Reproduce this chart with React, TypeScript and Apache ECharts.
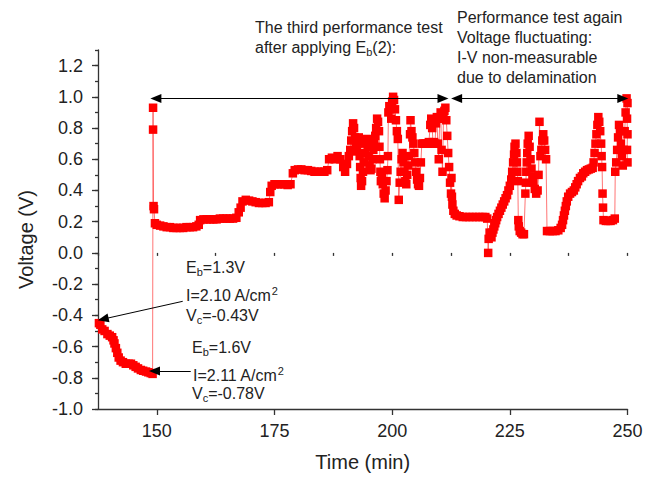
import React, { useEffect, useRef } from "react";
import * as echarts from "echarts";

// Time (min)
const timeMin = [
  137.7, 138.0, 138.4, 138.9, 139.5, 140.0, 140.5, 140.8, 141.0, 141.3, 141.6, 141.9, 142.3, 142.8, 143.4, 144.0,
  144.5, 145.0, 145.5, 146.0, 146.6, 147.1, 147.7, 148.2, 148.7, 149.1,
  149.2, 149.2, 149.3, 149.4, 149.6, 150.0, 150.7, 151.4, 152.1, 152.8, 153.5, 154.2, 154.9, 155.6, 156.3, 157.0,
  157.7, 158.4, 158.9,
  159.2, 159.9, 160.6, 161.3, 162.0, 162.7, 163.4, 164.1, 164.8, 165.5, 166.2, 166.9,
  167.4, 167.8, 168.2, 168.9, 169.6, 170.3, 171.0, 171.7, 172.4, 173.1, 173.8,
  174.1, 174.4, 175.0, 175.7, 176.4, 177.1, 177.8, 178.4,
  178.9, 179.3, 180.0, 180.7, 181.4, 182.1, 182.8, 183.5, 184.2, 184.9, 185.6, 186.2,
  186.6, 187.2, 187.8, 188.4, 189.0, 189.6, 190.0, 190.4,
  190.8, 191.1, 191.3, 191.5, 191.7, 191.9, 192.1, 192.3, 192.5, 192.7, 192.9, 193.1, 193.2, 193.3, 193.4, 193.6,
  193.8, 194.0, 194.2, 194.4, 194.6, 194.8, 195.0, 195.2, 195.4, 195.6, 195.8, 196.0, 196.2, 196.4, 196.6, 196.8,
  197.0, 197.2, 197.3, 197.4, 197.5, 197.6, 197.8, 198.0, 198.2, 198.4, 198.6, 198.8, 199.0, 199.1, 199.2, 199.4,
  199.6, 199.8, 200.0, 200.2, 200.4, 200.6, 200.8, 201.0, 201.2, 201.4, 201.6, 201.8, 202.0, 202.2, 202.4, 202.6,
  202.8, 203.0, 203.2, 203.4, 203.6, 203.8, 203.9, 204.1, 204.3, 204.5, 204.7, 204.9, 205.1, 205.3, 205.5, 205.7,
  205.9, 206.1, 206.3, 206.6, 206.9, 207.2, 207.5, 207.8, 208.1, 208.3, 208.5, 208.7, 208.9, 209.1, 209.3, 209.5,
  209.7, 209.9, 210.1, 210.3, 210.5, 210.7, 210.9, 211.1, 211.3, 211.5, 211.7, 211.9, 212.1, 212.3, 212.5, 212.6,
  212.7, 212.8, 213.0, 213.3, 213.7,
  214.3, 215.0, 215.7, 216.4, 217.1, 217.8, 218.5, 219.2, 219.8, 220.2,
  220.4, 220.5, 220.7, 220.9, 221.1, 221.3, 221.5, 221.7, 221.9, 222.1, 222.3, 222.6, 222.9, 223.2, 223.5, 223.8,
  224.1, 224.4, 224.7, 225.0, 225.3, 225.5, 225.7, 225.9, 226.0, 226.2, 226.4, 226.5, 226.6, 226.7, 226.8, 226.9,
  227.1, 227.4, 227.7, 228.0, 228.3, 228.4, 228.5, 228.6, 228.7, 228.8, 229.0, 229.2, 229.4, 229.6, 229.8, 230.0,
  230.3, 230.6, 230.9, 231.1, 231.3, 231.5, 231.7, 231.9, 232.1, 232.3, 232.5, 232.7, 232.9, 233.5, 234.1, 234.7,
  235.3, 235.8,
  236.1, 236.3, 236.5, 236.7, 236.9, 237.1, 237.4, 237.8, 238.2, 238.6, 238.9, 239.2, 239.5, 239.9, 240.3, 240.6,
  241.0, 241.4, 241.8, 242.2, 242.6, 242.8, 243.0, 243.2, 243.4, 243.6, 243.8, 244.0, 244.2, 244.4, 244.5, 244.6,
  244.7, 244.8, 244.9, 245.4, 245.9, 246.4, 246.9, 247.3,
  247.4, 247.6, 247.8, 248.0, 248.2, 248.4, 248.6, 248.8, 249.0, 249.2, 249.4, 249.6, 249.8, 250.0, 249.9, 250.0,
  249.9, 250.0,
];

// Voltage (V)
const voltage = [
  -0.45, -0.46, -0.49, -0.5, -0.52, -0.53, -0.54, -0.56, -0.58, -0.61, -0.64, -0.67, -0.69, -0.7, -0.71, -0.71,
  -0.71, -0.72, -0.73, -0.74, -0.75, -0.755, -0.76, -0.765, -0.77, -0.775,
  0.93, 0.79, 0.3, 0.28, 0.19, 0.18, 0.175, 0.17, 0.165, 0.165, 0.16, 0.16, 0.16, 0.16, 0.165, 0.165,
  0.165, 0.17, 0.18,
  0.21, 0.215, 0.215, 0.215, 0.215, 0.215, 0.22, 0.22, 0.22, 0.22, 0.22, 0.225,
  0.26, 0.29, 0.33, 0.34, 0.335, 0.33, 0.325, 0.32, 0.32, 0.32, 0.325,
  0.39, 0.43, 0.44, 0.44, 0.44, 0.44, 0.435, 0.44,
  0.51, 0.53, 0.535, 0.535, 0.53, 0.53, 0.525, 0.52, 0.52, 0.52, 0.52, 0.53,
  0.6, 0.61, 0.6, 0.62, 0.6, 0.55, 0.52, 0.57,
  0.62, 0.66, 0.72, 0.78, 0.83, 0.8, 0.74, 0.69, 0.65, 0.7, 0.74, 0.62, 0.55, 0.48, 0.43, 0.46,
  0.52, 0.58, 0.64, 0.7, 0.73, 0.68, 0.62, 0.56, 0.53, 0.54, 0.6, 0.66, 0.71, 0.75, 0.8, 0.86,
  0.84, 0.78, 0.68, 0.6, 0.52, 0.46, 0.48, 0.44, 0.38, 0.35, 0.4, 0.46, 0.53, 0.62, 0.9, 0.94,
  0.92, 0.86, 0.97, 1.0, 0.98, 0.92, 0.85, 0.78, 0.73, 0.34, 0.45, 0.52, 0.6, 0.64, 0.58, 0.52,
  0.46, 0.44, 0.5, 0.56, 0.62, 0.76, 0.85, 0.78, 0.74, 0.7, 0.64, 0.58, 0.52, 0.47, 0.44, 0.43,
  0.48, 0.58, 0.7, 0.7, 0.7, 0.7, 0.7, 0.71, 0.82, 0.86, 0.8, 0.7, 0.71, 0.7, 0.83, 0.87,
  0.7, 0.6, 0.86, 0.9, 0.66, 0.52, 0.86, 0.91, 0.93, 0.85, 0.75, 0.64, 0.55, 0.45, 0.38, 0.48,
  0.36, 0.31, 0.27, 0.25, 0.24,
  0.235, 0.23, 0.23, 0.23, 0.23, 0.23, 0.23, 0.23, 0.23, 0.22,
  0.0, 0.09, 0.13, 0.11, 0.1, 0.13, 0.15, 0.17, 0.19, 0.21, 0.23, 0.25, 0.27, 0.29, 0.31, 0.33,
  0.35, 0.37, 0.4, 0.43, 0.47, 0.52, 0.58, 0.63, 0.68, 0.7, 0.64, 0.58, 0.52, 0.46, 0.21, 0.17,
  0.14, 0.13, 0.12, 0.12, 0.38, 0.45, 0.52, 0.58, 0.64, 0.7, 0.75, 0.68, 0.6, 0.54, 0.49, 0.45,
  0.41, 0.38, 0.4, 0.5, 0.84, 0.62, 0.66, 0.72, 0.76, 0.72, 0.66, 0.6, 0.14, 0.14, 0.14, 0.14,
  0.145, 0.16,
  0.18, 0.21, 0.24, 0.27, 0.3, 0.33, 0.36, 0.38, 0.39, 0.4, 0.42, 0.44, 0.46, 0.48, 0.49, 0.51,
  0.52, 0.53, 0.535, 0.54, 0.545, 0.58, 0.64, 0.7, 0.76, 0.82, 0.87, 0.84, 0.78, 0.7, 0.62, 0.55,
  0.38, 0.29, 0.21, 0.205, 0.205, 0.205, 0.21, 0.22,
  0.52, 0.58, 0.66, 0.74, 0.82, 0.78, 0.7, 0.62, 0.56, 0.66, 0.78, 0.9, 0.99, 0.96, 0.86, 0.76,
  0.66, 0.58,
];

const xTickValues = [150, 175, 200, 225, 250];
const yTickValues = [-1.0, -0.8, -0.6, -0.4, -0.2, 0.0, 0.2, 0.4, 0.6, 0.8, 1.0, 1.2];

const FONT = "'Liberation Sans', Arial, Helvetica, sans-serif";
const TEXT = "#222";

export default function App() {
  const ref = useRef<HTMLDivElement>(null);
  useEffect(() => {
    if (!ref.current) return;
    const chart = echarts.init(ref.current, null, { renderer: "svg" });
    const data = timeMin.map((t, i) => [t, voltage[i]]);
    const axisLineStyle = { color: "#333", width: 1.3 };
    const rich = {
      n: { fontSize: 16, fontFamily: FONT, color: TEXT },
      sub: { fontSize: 11, fontFamily: FONT, color: TEXT, padding: [9, 0, 0, 0] },
      sup: { fontSize: 11, fontFamily: FONT, color: TEXT, padding: [0, 0, 9, 0] },
    };
    const label = (x: number, y: number, text: string) => ({
      type: "text",
      x,
      y,
      style: { text, rich, fill: TEXT, font: `16px ${FONT}`, verticalAlign: "middle", align: "left" },
    });
    chart.setOption({
      animation: false,
      backgroundColor: "#fff",
      grid: { left: 98, right: 33.5, top: 50, bottom: 67, containLabel: false },
      xAxis: [
        {
          type: "value",
          min: 137.5,
          max: 250,
          position: "bottom",
          axisLine: { show: true, onZero: false, lineStyle: axisLineStyle },
          axisTick: { show: true, length: 6, customValues: xTickValues, lineStyle: axisLineStyle },
          axisLabel: { customValues: xTickValues, fontSize: 18, color: TEXT, fontFamily: FONT, margin: 13 },
          splitLine: { show: false },
          name: "Time (min)",
          nameLocation: "middle",
          nameGap: 43,
          nameTextStyle: { fontSize: 20, color: TEXT, fontFamily: FONT },
        },
        {
          type: "value",
          min: 137.5,
          max: 250,
          interval: 12.5,
          position: "bottom",
          axisLine: { show: false },
          axisTick: { show: true, length: 3, lineStyle: axisLineStyle },
          axisLabel: { show: false },
          splitLine: { show: false },
        },
      ],
      yAxis: [
        {
          type: "value",
          min: -1.0,
          max: 1.3,
          interval: 0.2,
          position: "left",
          axisLine: { show: true, onZero: false, lineStyle: axisLineStyle },
          axisTick: { show: true, length: 6, customValues: yTickValues, lineStyle: axisLineStyle },
          axisLabel: {
            customValues: yTickValues,
            fontSize: 18,
            color: TEXT,
            fontFamily: FONT,
            margin: 15,
            formatter: (v: number) => v.toFixed(1),
          },
          splitLine: { show: false },
          name: "Voltage (V)",
          nameLocation: "middle",
          nameGap: 62,
          nameTextStyle: { fontSize: 20, color: TEXT, fontFamily: FONT, padding: [0, 20, 0, 0] },
        },
        {
          type: "value",
          min: -1.0,
          max: 1.3,
          interval: 0.1,
          position: "left",
          axisLine: { show: false },
          axisTick: { show: true, length: 3, lineStyle: axisLineStyle },
          axisLabel: { show: false },
          splitLine: { show: false },
        },
      ],
      series: [
        {
          type: "line",
          data,
          xAxisIndex: 0,
          yAxisIndex: 0,
          symbol: "rect",
          symbolSize: 8.5,
          showSymbol: true,
          showAllSymbol: true,
          clip: false,
          itemStyle: { color: "#ff0000" },
          lineStyle: { color: "#ff3a3a", width: 1, opacity: 0.7 },
          emphasis: { disabled: true },
          markLine: {
            silent: true,
            symbol: ["triangle", "triangle"],
            symbolSize: [9, 11],
            label: { show: false },
            lineStyle: { color: "#000", width: 1, type: "solid" },
            emphasis: { disabled: true },
            data: [
              [{ coord: [149.8, 0.99] }, { coord: [210.8, 0.99] }],
              [{ coord: [213.7, 0.99] }, { coord: [249.0, 0.99] }],
              [{ coord: [155.5, -0.31], symbol: "none" }, { coord: [138.6, -0.424], symbol: "triangle" }],
              [{ coord: [157.2, -0.757], symbol: "none" }, { coord: [149.5, -0.757], symbol: "triangle" }],
            ],
          },
        },
      ],
      graphic: [
        {
          type: "text",
          x: 255,
          y: 17,
          style: {
            text: "{n|The third performance test}\n{n|after applying E}{sub|b}{n|(2):}",
            rich,
            lineHeight: 20,
            fill: TEXT,
            font: `16px ${FONT}`,
          },
        },
        {
          type: "text",
          x: 457,
          y: 7,
          style: {
            text: "Performance test again\nVoltage fluctuating:\nI-V non-measurable\ndue to delamination",
            lineHeight: 20,
            fill: TEXT,
            font: `16px ${FONT}`,
          },
        },
        label(186, 267, "{n|E}{sub|b}{n|=1.3V}"),
        label(186, 295, "{n|I=2.10 A/cm}{sup|2}"),
        label(186, 315, "{n|V}{sub|c}{n|=-0.43V}"),
        label(192, 347, "{n|E}{sub|b}{n|=1.6V}"),
        label(193, 375, "{n|I=2.11 A/cm}{sup|2}"),
        label(192, 393, "{n|V}{sub|c}{n|=-0.78V}"),
      ],
    });
    return () => chart.dispose();
  }, []);
  return <div ref={ref} style={{ position: "fixed", left: 0, top: 0, width: 661, height: 477 }} />;
}
